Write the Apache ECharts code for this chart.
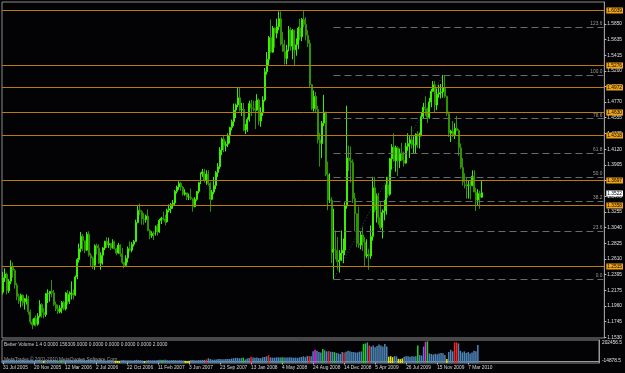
<!DOCTYPE html>
<html><head><meta charset="utf-8">
<script src="https://cdn.jsdelivr.net/npm/echarts@6/dist/echarts.min.js"></script>
<style>html,body{margin:0;padding:0;background:#000;}#c{width:625px;height:373px;}</style>
</head><body><div id="c"></div>
<script>
// ---- categories / ticks ----
const startDateUTC = Date.UTC(2005, 6, 31);
const barCount = 246;
const slotCount = 308;
const dateTickLabels = ['31 Jul 2005','20 Nov 2005','12 Mar 2006','2 Jul 2006','22 Oct 2006','11 Feb 2007','3 Jun 2007','23 Sep 2007','13 Jan 2008','4 May 2008','24 Aug 2008','14 Dec 2008','5 Apr 2009','26 Jul 2009','15 Nov 2009','7 Mar 2010'];
const priceTicks = [1.1530,1.1745,1.1960,1.2175,1.2395,1.2610,1.2825,1.3040,1.3255,1.3470,1.3690,1.3905,1.4120,1.4335,1.4555,1.4770,1.4985,1.5200,1.5415,1.5635,1.5850];
const volumeTicks = [-14878.5, 202456.5];

// ---- weekly OHLC ----
const opens = [
1.2150,1.2350,1.2400,1.2170,1.2300,1.2500,1.2450,1.2250,1.2090,1.2030,
1.2110,1.2000,1.2020,1.2060,1.1880,1.1740,1.1700,1.1790,1.1710,1.1820,
1.1980,1.1870,1.1840,1.2130,1.2130,1.2160,1.2140,1.1980,1.1920,1.1880,
1.1930,1.2010,1.1920,1.2140,1.2020,1.2120,1.2140,1.2110,1.2360,1.2600,
1.2750,1.2920,1.2860,1.2730,1.2950,1.2660,1.2620,1.2520,1.2790,1.2760,
1.2550,1.2660,1.2760,1.2850,1.2800,1.2820,1.2760,1.2850,1.2750,1.2690,
1.2800,1.2680,1.2560,1.2520,1.2620,1.2750,1.2730,1.2810,1.2850,1.3110,
1.3280,1.3260,1.3160,1.3150,1.3200,1.3000,1.2930,1.2960,1.2950,1.3060,
1.2980,1.3140,1.3170,1.3160,1.3120,1.3280,1.3300,1.3360,1.3380,1.3540,
1.3600,1.3650,1.3600,1.3500,1.3520,1.3460,1.3460,1.3440,1.3330,1.3430,
1.3540,1.3660,1.3780,1.3810,1.3690,1.3780,1.3650,1.3430,1.3530,1.3620,
1.3800,1.3880,1.4110,1.4260,1.4170,1.4190,1.4310,1.4420,1.4500,1.4660,
1.4730,1.4830,1.4660,1.4670,1.4390,1.4390,1.4530,1.4750,1.4690,1.4680,
1.4660,1.4800,1.4510,1.4620,1.4800,1.5190,1.5360,1.5660,1.5460,1.5790,
1.5720,1.5810,1.5920,1.5570,1.5470,1.5370,1.5490,1.5770,1.5540,1.5760,
1.5490,1.5560,1.5790,1.5670,1.5910,1.5840,1.5690,1.5580,1.5010,1.4680,
1.4850,1.4670,1.4250,1.4200,1.4480,1.4630,1.3770,1.3420,1.3420,1.2700,
1.2740,1.2730,1.2570,1.2590,1.2690,1.2730,1.3340,1.4000,1.3960,1.3940,
1.3440,1.3230,1.2820,1.2800,1.2940,1.2840,1.2650,1.2670,1.2650,1.2920,
1.3590,1.3280,1.3480,1.3180,1.3040,1.3250,1.3270,1.3630,1.3500,1.3990,
1.4150,1.3960,1.4140,1.3960,1.4070,1.3970,1.3930,1.4160,1.4200,1.4250,
1.4180,1.4180,1.4330,1.4300,1.4330,1.4570,1.4700,1.4680,1.4560,1.4770,
1.4920,1.5010,1.4730,1.4880,1.4900,1.4910,1.4970,1.4850,1.4610,1.4340,
1.4370,1.4320,1.4410,1.4380,1.4140,1.3870,1.3670,1.3630,1.3620,1.3630,
1.3620,1.3750,1.3530,1.3420,1.3510,1.3460];
const closes = [
1.2350,1.2400,1.2170,1.2300,1.2500,1.2450,1.2250,1.2090,1.2030,1.2110,
1.2000,1.2020,1.2060,1.1880,1.1740,1.1700,1.1790,1.1710,1.1820,1.1980,
1.1870,1.1840,1.2130,1.2130,1.2160,1.2140,1.1980,1.1920,1.1880,1.1930,
1.2010,1.1920,1.2140,1.2020,1.2120,1.2140,1.2110,1.2360,1.2600,1.2750,
1.2920,1.2860,1.2730,1.2950,1.2660,1.2620,1.2520,1.2790,1.2760,1.2550,
1.2660,1.2760,1.2850,1.2800,1.2820,1.2760,1.2850,1.2750,1.2690,1.2800,
1.2680,1.2560,1.2520,1.2620,1.2750,1.2730,1.2810,1.2850,1.3110,1.3280,
1.3260,1.3160,1.3150,1.3200,1.3000,1.2930,1.2960,1.2950,1.3060,1.2980,
1.3140,1.3170,1.3160,1.3120,1.3280,1.3300,1.3360,1.3380,1.3540,1.3600,
1.3650,1.3600,1.3500,1.3520,1.3460,1.3460,1.3440,1.3330,1.3430,1.3540,
1.3660,1.3780,1.3810,1.3690,1.3780,1.3650,1.3430,1.3530,1.3620,1.3800,
1.3880,1.4110,1.4260,1.4170,1.4190,1.4310,1.4420,1.4500,1.4660,1.4730,
1.4830,1.4660,1.4670,1.4390,1.4390,1.4530,1.4750,1.4690,1.4680,1.4660,
1.4800,1.4510,1.4620,1.4800,1.5190,1.5360,1.5660,1.5460,1.5790,1.5720,
1.5810,1.5920,1.5570,1.5470,1.5370,1.5490,1.5770,1.5540,1.5760,1.5490,
1.5560,1.5790,1.5670,1.5910,1.5840,1.5690,1.5580,1.5010,1.4680,1.4850,
1.4670,1.4250,1.4200,1.4480,1.4630,1.3770,1.3420,1.3420,1.2700,1.2740,
1.2730,1.2570,1.2590,1.2690,1.2730,1.3340,1.4000,1.3960,1.3940,1.3440,
1.3230,1.2820,1.2800,1.2940,1.2840,1.2650,1.2670,1.2650,1.2920,1.3590,
1.3280,1.3480,1.3180,1.3040,1.3250,1.3270,1.3630,1.3500,1.3990,1.4150,
1.3960,1.4140,1.3960,1.4070,1.3970,1.3930,1.4160,1.4200,1.4250,1.4180,
1.4180,1.4330,1.4300,1.4330,1.4570,1.4700,1.4680,1.4560,1.4770,1.4920,
1.5010,1.4730,1.4880,1.4900,1.4910,1.4970,1.4850,1.4610,1.4340,1.4370,
1.4320,1.4410,1.4380,1.4140,1.3870,1.3670,1.3630,1.3620,1.3630,1.3620,
1.3750,1.3530,1.3420,1.3510,1.3460,1.3520];
const highs = [
1.2430,1.2480,1.2420,1.2330,1.2590,1.2560,1.2470,1.2280,1.2130,1.2130,
1.2120,1.2070,1.2120,1.2100,1.1910,1.1780,1.1800,1.1830,1.1860,1.2040,
1.2000,1.1930,1.2140,1.2190,1.2170,1.2320,1.2180,1.2020,1.1980,1.1970,
1.2030,1.2030,1.2150,1.2180,1.2160,1.2300,1.2190,1.2380,1.2620,1.2820,
1.2980,1.2950,1.2860,1.2980,1.2990,1.2690,1.2640,1.2810,1.2820,1.2810,
1.2700,1.2770,1.2860,1.2910,1.2900,1.2830,1.2880,1.2860,1.2760,1.2830,
1.2810,1.2760,1.2570,1.2660,1.2780,1.2850,1.2840,1.2870,1.3150,1.3340,
1.3370,1.3280,1.3240,1.3220,1.3290,1.3020,1.2990,1.2990,1.3070,1.3090,
1.3160,1.3190,1.3260,1.3220,1.3300,1.3360,1.3380,1.3420,1.3560,1.3620,
1.3680,1.3670,1.3610,1.3570,1.3520,1.3510,1.3580,1.3440,1.3460,1.3540,
1.3670,1.3800,1.3850,1.3850,1.3830,1.3830,1.3670,1.3560,1.3740,1.3820,
1.3930,1.4150,1.4280,1.4300,1.4230,1.4340,1.4430,1.4530,1.4750,1.4750,
1.4970,1.4970,1.4760,1.4760,1.4470,1.4560,1.4790,1.4800,1.4790,1.4790,
1.4880,1.4820,1.4700,1.4850,1.5240,1.5460,1.5680,1.5910,1.5820,1.5800,
1.5920,1.6020,1.6020,1.5740,1.5630,1.5560,1.5820,1.5800,1.5780,1.5770,
1.5650,1.5810,1.5920,1.5930,1.6040,1.5940,1.5760,1.5630,1.5020,1.4930,
1.4910,1.4720,1.4350,1.4510,1.4870,1.4640,1.3950,1.3790,1.3460,1.3300,
1.3000,1.2910,1.2730,1.3000,1.2890,1.3390,1.4720,1.4170,1.4160,1.3980,
1.3520,1.3240,1.3330,1.2980,1.3050,1.2910,1.2880,1.2750,1.3070,1.3740,
1.3740,1.3510,1.3520,1.3390,1.3290,1.3420,1.3740,1.3740,1.4000,1.4190,
1.4340,1.4170,1.4160,1.4130,1.4210,1.4090,1.4210,1.4340,1.4300,1.4440,
1.4300,1.4340,1.4370,1.4350,1.4620,1.4760,1.4850,1.4700,1.4830,1.4950,
1.5060,1.5060,1.4960,1.5010,1.5020,1.5144,1.5140,1.4860,1.4640,1.4390,
1.4510,1.4480,1.4580,1.4400,1.4200,1.4000,1.3790,1.3740,1.3690,1.3680,
1.3830,1.3830,1.3590,1.3570,1.3550,1.3690];
const lows = [
1.2120,1.2290,1.2120,1.2140,1.2260,1.2350,1.2200,1.2040,1.1990,1.1940,
1.1960,1.1910,1.1980,1.1840,1.1710,1.1640,1.1690,1.1680,1.1690,1.1800,
1.1800,1.1790,1.1810,1.2000,1.2020,1.2080,1.1960,1.1890,1.1850,1.1860,
1.1860,1.1900,1.1900,1.1980,1.1990,1.2050,1.2050,1.2100,1.2330,1.2560,
1.2700,1.2720,1.2690,1.2720,1.2640,1.2500,1.2470,1.2460,1.2670,1.2540,
1.2460,1.2530,1.2730,1.2760,1.2760,1.2730,1.2750,1.2740,1.2660,1.2680,
1.2640,1.2540,1.2480,1.2500,1.2560,1.2710,1.2700,1.2780,1.2840,1.3100,
1.3210,1.3080,1.3080,1.3110,1.2990,1.2880,1.2900,1.2870,1.2930,1.2930,
1.2970,1.3090,1.3140,1.3070,1.3110,1.3250,1.3240,1.3300,1.3350,1.3510,
1.3560,1.3550,1.3480,1.3480,1.3420,1.3420,1.3420,1.3260,1.3320,1.3410,
1.3510,1.3640,1.3740,1.3660,1.3630,1.3620,1.3260,1.3420,1.3500,1.3570,
1.3740,1.3850,1.4040,1.4080,1.4090,1.4150,1.4200,1.4380,1.4440,1.4550,
1.4700,1.4640,1.4580,1.4370,1.4330,1.4360,1.4500,1.4580,1.4640,1.4400,
1.4650,1.4450,1.4430,1.4580,1.4780,1.5150,1.5270,1.5450,1.5450,1.5520,
1.5650,1.5760,1.5550,1.5460,1.5290,1.5290,1.5470,1.5480,1.5360,1.5280,
1.5410,1.5500,1.5620,1.5610,1.5800,1.5620,1.5530,1.4980,1.4660,1.4640,
1.4620,1.4200,1.3880,1.4000,1.4440,1.3750,1.3280,1.3380,1.2550,1.2330,
1.2600,1.2460,1.2420,1.2580,1.2550,1.2660,1.3300,1.3820,1.3660,1.3380,
1.2990,1.2770,1.2760,1.2740,1.2720,1.2510,1.2620,1.2460,1.2610,1.2860,
1.3250,1.3110,1.3080,1.3010,1.2890,1.3140,1.3220,1.3450,1.3480,1.3840,
1.3950,1.3810,1.3750,1.3860,1.3960,1.3880,1.3920,1.4100,1.4000,1.4130,
1.4070,1.4060,1.4140,1.4130,1.4300,1.4540,1.4580,1.4480,1.4540,1.4700,
1.4910,1.4620,1.4660,1.4830,1.4820,1.4830,1.4830,1.4580,1.4290,1.4220,
1.4290,1.4260,1.4370,1.4030,1.3850,1.3620,1.3580,1.3440,1.3440,1.3430,
1.3610,1.3530,1.3270,1.3340,1.3300,1.3450];

// ---- Better Volume ----
const volumes = [
14000,12000,15000,11000,16000,13000,12000,14000,12000,11000,
13000,10000,12000,15000,16000,17000,12000,10000,13000,14000,
9000,6000,13000,12000,12000,15000,13000,12000,11000,12000,
13000,12000,14000,11000,12000,14000,11000,15000,17000,16000,
18000,15000,13000,14000,16000,15000,14000,15000,12000,13000,
12000,13000,11000,10000,9000,9000,10000,8000,5000,5000,
6000,12000,13000,11000,12000,10000,10000,9000,14000,15000,
13000,12000,9000,5000,10000,13000,11000,12000,11000,12000,
13000,16000,14000,15000,17000,12000,11000,12000,13000,12000,
11000,12000,11000,8000,6000,5000,6000,14000,13000,12000,
12000,13000,12000,14000,15000,18000,30000,22000,16000,17000,
18000,24000,22000,20000,21000,22000,24000,23000,28000,30000,
34000,33000,30000,32000,36000,18000,28000,33000,45000,38000,
34000,36000,33000,30000,40000,42000,48000,58000,38000,36000,
35000,38000,40000,36000,39000,38000,36000,37000,40000,38000,
35000,36000,34000,38000,42000,48000,40000,52000,50000,48000,
95000,110000,100000,90000,85000,117000,105000,95000,98000,92000,
90000,88000,80000,76000,70000,88000,85000,92000,100000,95000,
88000,90000,84000,86000,92000,95000,165000,170000,180000,150000,
140000,150000,135000,145000,160000,150000,140000,165000,140000,45000,
50000,40000,50000,48000,25000,22000,28000,45000,50000,48000,
44000,50000,46000,48000,150000,60000,55000,140000,185000,190000,
75000,70000,65000,72000,68000,75000,80000,78000,60000,22000,
90000,110000,95000,180000,180000,170000,100000,85000,95000,80000,
90000,75000,85000,100000,95000,156309];
const volLowBars = [21,58,59,60,73,94,95,96,199,200,201,204,205,206,229];
const volClimaxBars = [105,128,137,158,168,176,189,233,234];
const volChurnBars = [30,82,124,144,165,171,186,187,214,219];
const volClimaxChurnBars = [161,218];

// ---- drawn objects ----
const levelLines = [1.6039,1.5276,1.4972,1.4630,1.4318,1.3697,1.3358,1.2515];
const currentPrice = 1.3522;
const fibLowIndex = 169, fibLowPrice = 1.2330;
const fibHighIndex = 225, fibHighPrice = 1.5144;
const fibLevels = [0, 23.6, 38.2, 50.0, 61.8, 78.6, 100.0, 123.6];

const headerText = 'Better Volume 1.4 0.0000 156309.0000 0.0000 0.0000 0.0000 0.0000 2.0000';
const footerText = 'MetaTrader \u00A9 2001-2010 MetaQuotes Software Corp.';

// ---- build ----
const MON = ['Jan','Feb','Mar','Apr','May','Jun','Jul','Aug','Sep','Oct','Nov','Dec'];
const categories = [];
for (let i = 0; i < slotCount; i++) {
  if (i < barCount) {
    const d = new Date(startDateUTC + i * 7 * 86400000);
    categories.push(d.getUTCDate() + ' ' + MON[d.getUTCMonth()] + ' ' + d.getUTCFullYear());
  } else categories.push('');
}
const tickSet = new Set(dateTickLabels);
const showTick = (idx) => tickSet.has(categories[idx]);

const ohlc = opens.map((o, i) => [o, closes[i], lows[i], highs[i]]);

const volColorList = ['#4f86b9', '#e6e600', '#ff2020', '#22d022', '#ff20ff'];
const volData = volumes.map((v, i) => {
  let c = 0;
  if (volLowBars.includes(i)) c = 1;
  if (volClimaxBars.includes(i)) c = 2;
  if (volChurnBars.includes(i)) c = 3;
  if (volClimaxChurnBars.includes(i)) c = 4;
  return [i, v, c];
});

const FONT = "'Liberation Sans',Arial,sans-serif";
const FS = 4.8;
const ORANGE = '#bc7c0a';

const fibRange = fibHighPrice - fibLowPrice;
const fibMarks = fibLevels.map(l => {
  const p = fibLowPrice + l / 100 * fibRange;
  return [{coord: [fibLowIndex, p], label: {formatter: l.toFixed(1)}}, {coord: [slotCount - 1, p]}];
});

// level lines: [price, kind] kind 0 = drawn orange line with label, 1 = current price label only
const levelData = levelLines.map(v => [v, 0]).concat([[currentPrice, 1]]);

const chart = echarts.init(document.getElementById('c'), null, {renderer: 'canvas'});
chart.setOption({
  animation: false,
  backgroundColor: '#030305',
  grid: [
    {left: 2, right: 19, top: 2, height: 336, show: true, borderColor: '#8c8c8c', borderWidth: 1},
    {left: 2, right: 19, top: 340, height: 23, show: true, borderColor: '#8c8c8c', borderWidth: 1}
  ],
  xAxis: [
    {type: 'category', gridIndex: 0, data: categories, boundaryGap: true,
     axisLine: {show: false}, axisTick: {show: false}, axisLabel: {show: false}, splitLine: {show: false}},
    {type: 'category', gridIndex: 1, data: categories, boundaryGap: true,
     axisLine: {show: true, lineStyle: {color: '#9a9a9a'}},
     axisTick: {show: true, interval: showTick, alignWithLabel: true, length: 3, lineStyle: {color: '#bdbdbd'}},
     axisLabel: {show: true, interval: showTick, hideOverlap: false, align: 'left', margin: 2, color: '#d8d8d8', fontSize: FS, fontFamily: FONT},
     splitLine: {show: false}}
  ],
  yAxis: [
    {type: 'value', gridIndex: 0, position: 'right', min: 1.1519, max: 1.6150,
     axisLine: {show: true, lineStyle: {color: '#9a9a9a'}},
     axisTick: {show: true, customValues: priceTicks, length: 2, lineStyle: {color: '#bdbdbd'}},
     axisLabel: {show: true, customValues: priceTicks, formatter: v => v.toFixed(4), margin: 3, color: '#e0e0e0', fontSize: FS, fontFamily: FONT},
     splitLine: {show: false}},
    {type: 'value', gridIndex: 1, position: 'right', min: volumeTicks[0], max: volumeTicks[1],
     axisLine: {show: true, lineStyle: {color: '#9a9a9a'}},
     axisTick: {show: false},
     axisLabel: {show: true, customValues: volumeTicks, formatter: v => v.toFixed(1), margin: 3, color: '#e0e0e0', fontSize: FS, fontFamily: FONT,
                 verticalAlignMaxLabel: 'top', verticalAlignMinLabel: 'bottom'},
     splitLine: {show: false}}
  ],
  series: [
    {type: 'candlestick', xAxisIndex: 0, yAxisIndex: 0, data: ohlc, barWidth: '75%', z: 3,
     itemStyle: {color: '#30d800', color0: '#1f6800', borderColor: '#38f000', borderColor0: '#2f9200', borderWidth: 1}},
    {type: 'custom', xAxisIndex: 0, yAxisIndex: 0, data: levelData, z: 6, clip: false, silent: true,
     renderItem: (params, api) => {
       const cs = params.coordSys;
       const y = Math.round(api.coord([0, api.value(0)])[1]) + 0.5;
       const kind = api.value(1);
       const x1 = cs.x + cs.width;
       const children = [];
       if (kind === 0) {
         children.push({type: 'line', shape: {x1: cs.x, y1: y, x2: x1, y2: y}, style: {stroke: ORANGE, lineWidth: 1}});
       }
       children.push({type: 'text', x: x1 + 2, y: y, z2: 10,
         style: {text: api.value(0).toFixed(4), fill: '#000000', backgroundColor: kind === 0 ? '#f0a416' : '#ffffff',
                 padding: [1, 1, 0, 1], font: FS + 'px ' + FONT, align: 'left', verticalAlign: 'middle'}});
       return {type: 'group', children};
     }},
    {type: 'line', xAxisIndex: 0, yAxisIndex: 0, data: [], z: 2,
     markLine: {symbol: 'none', silent: true,
       lineStyle: {color: '#6a6a6a', type: [7, 4], width: 1},
       label: {show: true, position: 'insideEndTop', distance: 1, color: '#9a9a9a', fontSize: FS, fontFamily: FONT},
       data: fibMarks}},
    {type: 'line', xAxisIndex: 0, yAxisIndex: 0, z: 1, symbol: 'none',
     data: [[fibLowIndex, fibLowPrice], [fibHighIndex, fibHighPrice]],
     lineStyle: {color: '#2a4c74', type: [1, 2], width: 1}},
    {type: 'custom', xAxisIndex: 1, yAxisIndex: 1, data: volData, z: 2,
     renderItem: (params, api) => {
       const top = api.coord([api.value(0), api.value(1)]);
       const base = api.coord([api.value(0), volumeTicks[0]]);
       const w = 1.5;
       return {type: 'rect', shape: {x: top[0] - w / 2, y: top[1], width: w, height: base[1] - top[1]},
               style: {fill: volColorList[api.value(2)]}};
     }}
  ],
  graphic: [
    {type: 'text', left: 4, top: 342, z: 50, style: {text: headerText, fill: '#d0d0d0', font: FS + 'px ' + FONT}},
    {type: 'text', left: 4, top: 357.5, z: 50, style: {text: footerText, fill: '#9a9a9a', font: FS + 'px ' + FONT}}
  ]
});
</script>
</body></html>
